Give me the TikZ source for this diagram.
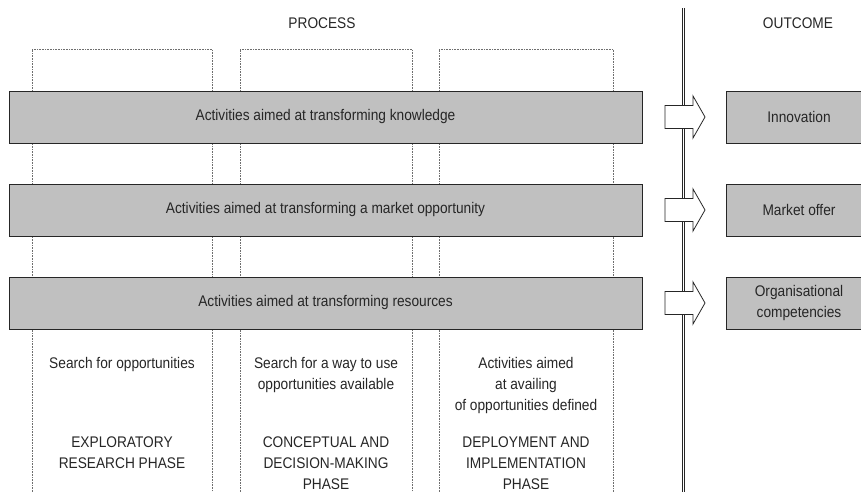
\documentclass[tikz,border=0pt]{standalone}
\usepackage{fontspec}
\setmainfont[FakeStretch=0.89]{Liberation Sans}
\usetikzlibrary{positioning,calc}

\definecolor{barfill}{RGB}{192,192,192}
\definecolor{dotgray}{RGB}{110,110,110}

\tikzset{
  txt/.style   = {align=center, inner sep=0pt, text=black!85, font=\fontsize{15.4}{21}\selectfont},
  bar/.style   = {txt, draw=black!85, line width=0.8pt, fill=barfill, minimum width=633pt, minimum height=52pt},
  outbox/.style= {txt, draw=black!85, line width=0.8pt, fill=barfill, minimum width=146pt, minimum height=52pt},
  phasecol/.style = {dotgray, densely dotted, line width=0.6pt},
  blockarrow/.style = {draw=black!85, fill=white, line width=0.8pt},
}

\begin{document}
\begin{tikzpicture}[x=1pt, y=-1pt]

\useasboundingbox (0,0) rectangle (861,492);
\clip (0,0) rectangle (861,492);

% headings
\node[txt] (process) at (322,23) {PROCESS};
\node[txt] (outcome) at (798,23) {OUTCOME};

% phase columns (open at the bottom)
\foreach \l/\r in {32/212, 240/412, 439/613} {\draw[phasecol] (\l,492) -- (\l,49) -- (\r,49) -- (\r,492);}

% divider between process and outcome
\coordinate (divtop) at (683.5,8);
\coordinate (divbot) at (683.5,492);
\draw[double, double distance=1.8pt, line width=0.7pt, black!85] (divtop) -- (divbot);

% block arrows sit over the divider
\foreach \y in {117,210,303} {
  \draw[blockarrow] (665,\y-11.5) -- ++(28,0) -- ++(0,-9.5) -- ++(12,21) -- ++(-12,21) -- ++(0,-9.5) -- ++(-28,0) -- cycle;
}

% activity bars
\node[bar] (know) at (325.5,117) {Activities aimed at transforming knowledge};
\node[bar] (market) at (325.5,210) {Activities aimed at transforming a market opportunity};
\node[bar] (res) at (325.5,303) {Activities aimed at transforming resources};

% outcomes
\node[outbox] (innov) at (799,117) {Innovation};
\node[outbox] (offer) at (799,210) {Market offer};
\node[outbox] (comp) at (799,303) {Organisational\\competencies};

% phase descriptions
\node[txt, anchor=north] (act1) at (122,357) {Search for opportunities};
\node[txt, anchor=north] (act2) at (326,357) {Search for a way to use\\opportunities available};
\node[txt, anchor=north] (act3) at (526,357) {Activities aimed\\at availing\\of opportunities defined};

\node[txt, anchor=north] (ph1) at (122,437) {EXPLORATORY\\RESEARCH PHASE};
\node[txt, anchor=north] (ph2) at (326,437) {CONCEPTUAL AND\\DECISION-MAKING\\PHASE};
\node[txt, anchor=north] (ph3) at (526,437) {DEPLOYMENT AND\\IMPLEMENTATION\\PHASE};

\end{tikzpicture}
\end{document}
